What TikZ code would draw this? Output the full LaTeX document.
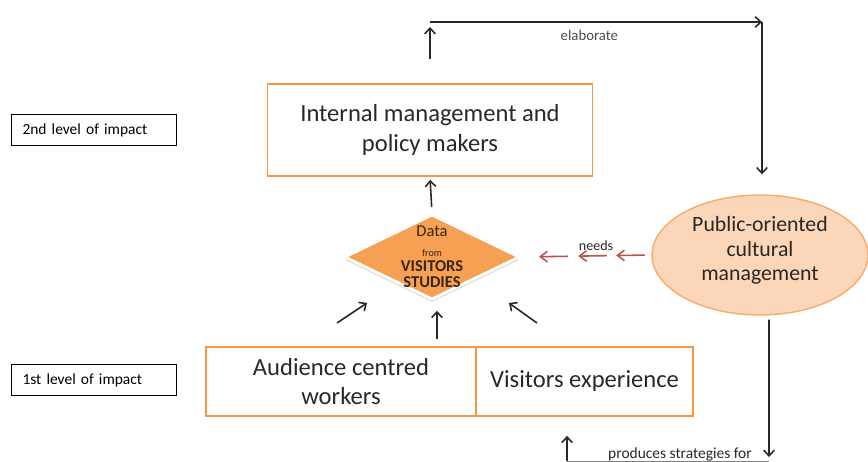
\documentclass[tikz,border=0pt]{standalone}
\usepackage{fontspec}
\setmainfont{Carlito}
\usetikzlibrary{shapes,arrows,arrows.meta,positioning,calc,shadows}
\definecolor{impactorange}{RGB}{247,150,70}
\definecolor{dataorange}{RGB}{245,160,82}
\definecolor{peach}{RGB}{251,214,184}
\definecolor{needsred}{RGB}{192,80,77}
\definecolor{textgray}{RGB}{40,40,40}

\tikzset{
  levelbox/.style={draw, line width=1.1pt, minimum width=3.3cm, minimum height=0.62cm,
    inner xsep=0.22cm, text width=2.86cm, align=left, font=\fontsize{8.8}{10}\selectfont},
  impactbox/.style={draw=impactorange, line width=1pt, align=center, text=textgray},
  arrowline/.style={-{Straight Barb[length=3.2pt,width=6pt]}, line width=0.9pt, textgray},
  needsarrow/.style={-{Straight Barb[length=4pt,width=6pt]}, line width=0.9pt, needsred},
}

\begin{document}
\begin{tikzpicture}[x=0.02cm,y=-0.02cm]
    \useasboundingbox (0,0) rectangle (868,462);

    % Levels on the left
    \node[levelbox] (level2) at (94,130) {2nd level of impact};
    \node[levelbox] (level1) at (94,380) {1st level of impact};

    % Upper box
    \node[impactbox, minimum width=6.5cm, minimum height=1.84cm, font=\fontsize{14}{17}\selectfont]
        (internal) at (430,130) {Internal management and\\policy makers};

    % Data diamond
    \node[diamond, fill=dataorange, draw=white, line width=1.5pt, inner sep=0pt,
        minimum width=3.5cm, minimum height=1.7cm,
        drop shadow={opacity=0.25, shadow xshift=0cm, shadow yshift=-0.06cm},
        label={[align=center, text=black!70!brown, font=\fontsize{9.4}{10}\selectfont]center:{%
          {\fontsize{9.4}{10}\selectfont Data}\\[1pt]
          {\fontsize{5.8}{8}\selectfont from}\\[-1pt]
          \textbf{VISITORS}\\[-1pt]\textbf{STUDIES}}}]
        (data) at (432,257) {};

    % Management ellipse
    \node[ellipse, fill=peach, draw=impactorange!80, line width=0.8pt, inner sep=0pt,
        minimum width=4.32cm, minimum height=2.4cm, align=center, text=textgray,
        text depth=0.25cm, font=\fontsize{12.4}{14}\selectfont]
        (public) at (760,255) {Public-oriented\\cultural\\management};

    % Lower boxes
    \node[impactbox, minimum width=5.4cm, minimum height=1.38cm, font=\fontsize{14}{16}\selectfont]
        (audience) at (341,381.5) {Audience centred\\workers};
    \node[impactbox, minimum width=4.34cm, minimum height=1.38cm, font=\fontsize{14}{16}\selectfont]
        (visitors) at (584.5,381.5) {Visitors experience};

    % Elaborate loop on top
    \coordinate (elabL) at (430,22);
    \coordinate (elabR) at (762,22);
    \draw[arrowline, shorten <=0.48cm, shorten >=0.1cm] (internal.north) -- (elabL);
    \draw[arrowline] (elabL) -- (elabR)
        node[pos=0.48, below=1pt, font=\fontsize{8.4}{10}\selectfont, text=black!70] {elaborate};
    \draw[arrowline, shorten >=0.4cm] (elabR) -- (elabR |- public.north);

    % Data feeds the upper box
    \draw[arrowline, shorten <=0.12cm, shorten >=0.06cm] (data.north) -- (internal.south);

    % Needs
    \foreach \s/\e in {0.05/0.27, 0.34/0.56, 0.64/0.86}
        \draw[needsarrow] ($(public.west)!\s!(data.east)$) -- ($(public.west)!\e!(data.east)$);
    \node[font=\fontsize{8}{9}\selectfont, text=textgray] (needs) at (596,246) {needs};

    % Inputs to the data
    \coordinate (inL) at (337,323);
    \coordinate (inLend) at (367,303);
    \coordinate (inR) at (537,323);
    \coordinate (inRend) at (509,303);
    \coordinate (inC) at (437,339);
    \draw[arrowline] (inL) -- (inLend);
    \draw[arrowline] (inR) -- (inRend);
    \draw[arrowline, shorten >=0.2cm] (inC) -- (inC |- data.south);

    % Strategies loop at the bottom
    \coordinate (stratR) at (769,461);
    \coordinate (stratL) at (567,461);
    \draw[arrowline, shorten <=0.08cm, shorten >=0.08cm] ([xshift=0.18cm]public.south) -- (stratR);
    \draw[textgray!60, thin] (stratR) -- (stratL);
    \draw[arrowline, shorten >=0.38cm] (stratL) -- (stratL |- visitors.south);
    \node[font=\fontsize{8.8}{10}\selectfont, text=textgray] (produces) at (680,454) {produces strategies for};
\end{tikzpicture}
\end{document}
